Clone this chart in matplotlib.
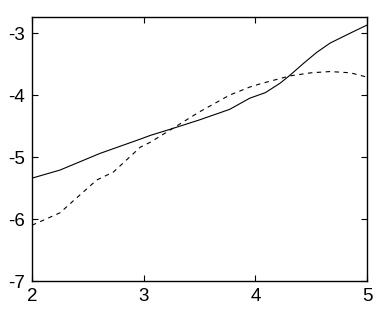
#Duas curvas: solida e tracejada
import numpy as np
import matplotlib.pyplot as plt

plt.rcParams['font.family'] = ['Liberation Sans', 'DejaVu Sans']
plt.rcParams['axes.unicode_minus'] = False

#Valores
x_solida = [2.0, 2.25, 2.61, 2.97, 3.06, 3.24, 3.5, 3.77, 3.95, 4.09, 4.22, 4.31, 4.43, 4.55, 4.67, 4.85, 5.0]
y_solida = [-5.34, -5.21, -4.94, -4.71, -4.65, -4.55, -4.40, -4.23, -4.05, -3.96, -3.81, -3.68, -3.49, -3.31, -3.16, -3.0, -2.87]

x_tracejada = [2.0, 2.25, 2.38, 2.58, 2.73, 2.97, 3.06, 3.24, 3.5, 3.77, 3.95, 4.04, 4.31, 4.5, 4.67, 4.85, 5.0]
y_tracejada = [-6.10, -5.90, -5.69, -5.37, -5.24, -4.84, -4.76, -4.56, -4.27, -4.0, -3.87, -3.82, -3.69, -3.64, -3.62, -3.64, -3.71]

xticks = [2, 3, 4, 5]
yticks = [-7, -6, -5, -4, -3]

fig = plt.figure(figsize=(3.77, 3.10), dpi=100)
ax = fig.add_axes([0.0849, 0.0935, 0.8886, 0.8516])

ax.plot(x_solida, y_solida, color='black', linewidth=0.8)
ax.plot(x_tracejada, y_tracejada, color='black', linewidth=0.8, dashes=(4, 4))

ax.set_xlim(2, 5)
ax.set_ylim(-7, -2.74)
ax.set_xticks(xticks)
ax.set_yticks(yticks)
ax.tick_params(direction='in', length=4, width=0.8, top=True, right=True, labelsize=13.5, pad=5)
for s in ax.spines.values():
    s.set_linewidth(1.0)

plt.savefig('out.png', dpi=100)
